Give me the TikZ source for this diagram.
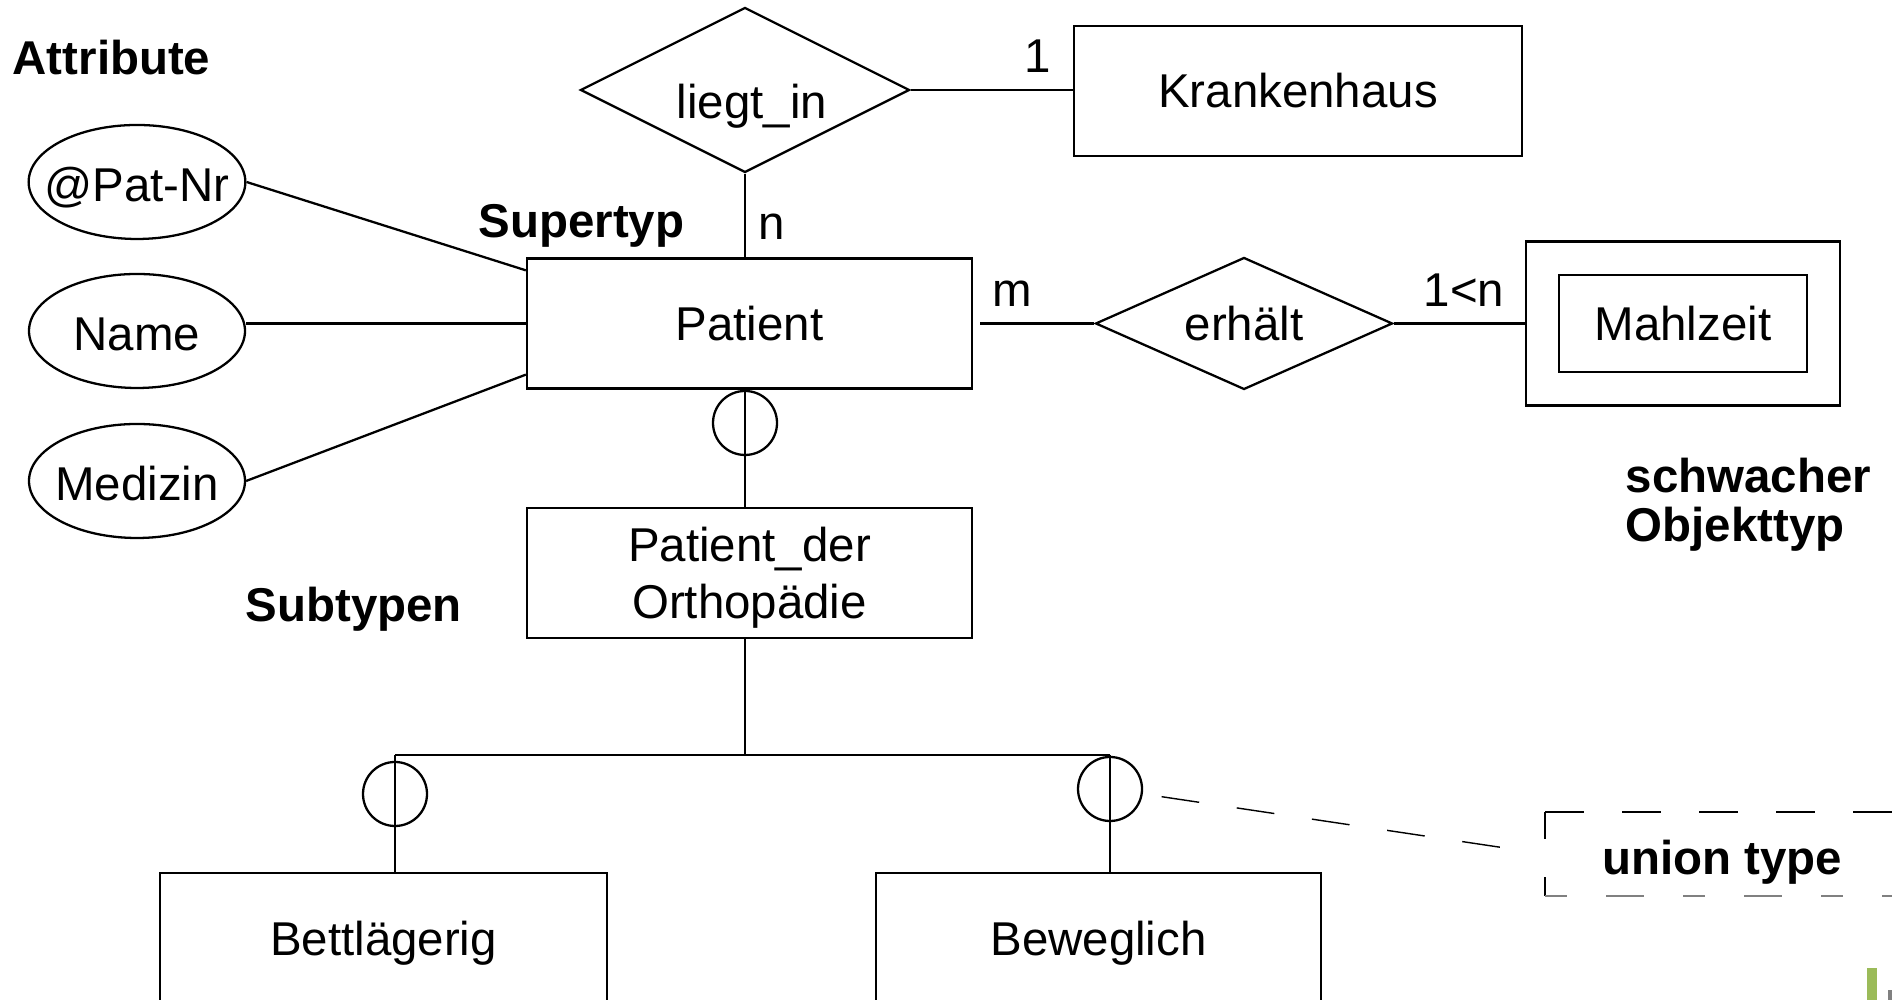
\documentclass[tikz,border=0pt]{standalone}
\usepackage{fontspec}
\setmainfont{Liberation Sans}
\usepackage{tikz}
\usetikzlibrary{shapes.geometric}
\definecolor{logogreen}{RGB}{155,187,89}
\tikzset{
  entity/.style={
    draw, rectangle, minimum width=4.45cm, minimum height=1.3cm, line width=0.65pt, inner sep=0mm
  },
  relation/.style={
    draw, diamond, aspect=2, inner sep=0mm, line width=0.65pt
  },
  attrib/.style={
    draw, ellipse, minimum width=2.16cm, minimum height=1.14cm, inner xsep=-1.6mm, inner ysep=0mm,
    text height=4.2mm, text depth=0.2mm, line width=0.65pt
  },
  gencirc/.style={
    draw, circle, minimum size=6.4mm, inner sep=0mm, line width=0.65pt
  },
  conn/.style={line width=0.65pt},
  card/.style={inner sep=0mm, anchor=base},
  tag/.style={
    inner sep=0mm, anchor=base west, font=\bfseries\fontsize{13.5}{14}\selectfont
  }
}

\begin{document}
\begin{tikzpicture}[font=\fontsize{13.5}{16.2}\selectfont]
  \useasboundingbox (0,0) rectangle (18.92,10);
  \clip (0,0) rectangle (18.92,10);

  \node[entity] (patient) at (7.495, 6.765) {Patient};
  \node[entity, align=center, text depth=0mm] (ortho) at (7.495, 4.27) {Patient\_der\\Orthopädie};
  \node[entity, minimum width=4.48cm] (krank) at (12.98, 9.09) {Krankenhaus};
  \node[entity, minimum width=4.47cm, minimum height=1.4cm] (bett) at (3.835, 0.57) {Bettlägerig};
  \node[entity, minimum height=1.4cm] (beweg) at (10.985, 0.57) {Beweglich};
  \node[entity, minimum width=3.14cm, minimum height=1.64cm] (mahl) at (16.83, 6.765) {};
  \node[entity, minimum width=2.48cm, minimum height=0.97cm] (mahlin) at (mahl) {Mahlzeit};

  \node[relation, minimum width=3.29cm, minimum height=1.65cm] (liegt) at (7.45, 9.10) {};
  \node[inner sep=0mm] (liegttxt) at ([xshift=0.7mm, yshift=-1.6mm]liegt.center) {liegt\_in};
  \node[relation, minimum width=2.97cm, minimum height=1.32cm] (erhaelt) at (12.44, 6.765) {erhält};

  \node[attrib] (patnr) at (1.37, 8.18) {@Pat-Nr};
  \node[attrib] (name) at (1.37, 6.69) {Name};
  \node[attrib] (medizin) at (1.37, 5.19) {Medizin};

  \node[gencirc] (gensup) at (7.45, 5.77) {};
  \node[gencirc] (genbett) at (3.95, 2.06) {};
  \node[gencirc] (genbeweg) at (11.10, 2.11) {};
  \coordinate (barl) at (3.95, 2.45);
  \coordinate (barr) at (11.10, 2.45);

  \node[minimum width=3.52cm, minimum height=0.82cm, inner sep=0mm, text height=5mm,
    font=\bfseries\fontsize{13.5}{16}\selectfont] (union) at (17.22, 1.46) {union type};

  \draw[conn] (liegt.south) -- (liegt.south |- patient.north);
  \draw[conn] (liegt.east) -- (liegt.east -| krank.west);
  \draw[conn, shorten <=0.7mm] (patient.east) -- (erhaelt.west);
  \draw[conn] (erhaelt.east) -- (mahl.west);
  \draw[conn] (patnr.east) -- ([yshift=-1.3mm]patient.north west);
  \draw[conn] (patient.west) -- (patient.west -| name.east);
  \draw[conn] (medizin.east) -- ([yshift=1.5mm]patient.south west);
  \draw[conn] (gensup |- patient.south) -- (gensup |- ortho.north);
  \draw[conn] (gensup |- ortho.south) -- (gensup |- barl);
  \draw[conn] (barl) -- (barr);
  \draw[conn] (barl) -- (barl |- bett.north);
  \draw[conn] (barr) -- (barr |- beweg.north);
  \draw[line width=0.4pt, dash pattern=on 3.8mm off 3.8mm, shorten <=1.9mm, shorten >=4.4mm] (genbeweg) -- (union.west);
  \draw[line width=0.5pt, dash pattern=on 3.9mm off 3.8mm] (union.north west) -- (union.north east);
  \draw[line width=0.5pt, dash pattern=on 2.7mm off 3.8mm on 3.8mm off 3.8mm] (union.north west) -- (union.south west);
  \draw[line width=0.5pt, gray, dash pattern=on 2.2mm off 3.9mm on 3.8mm off 3.9mm] (union.south west) -- (union.south east);

  \node[card] (cardkrank) at (10.38, 9.27) {1};
  \node[card] (cardliegt) at (7.72, 7.60) {n};
  \node[card] (cardpat) at (10.12, 6.93) {m};
  \node[card] (cardmahl) at (14.64, 6.93) {1<n};

  \node[tag] (attrtag) at (0.12, 9.25) {Attribute};
  \node[tag] (supertag) at (4.78, 7.62) {Supertyp};
  \node[tag] (subtag) at (2.45, 3.78) {Subtypen};
  \node[tag, anchor=north west, align=left] (weaktag) at (16.25, 5.43) {schwacher\\Objekttyp};

  \fill[logogreen] (18.67,0) rectangle (18.77,0.32);
  \fill[gray] (18.88,0) rectangle (18.92,0.10);
\end{tikzpicture}
\end{document}
